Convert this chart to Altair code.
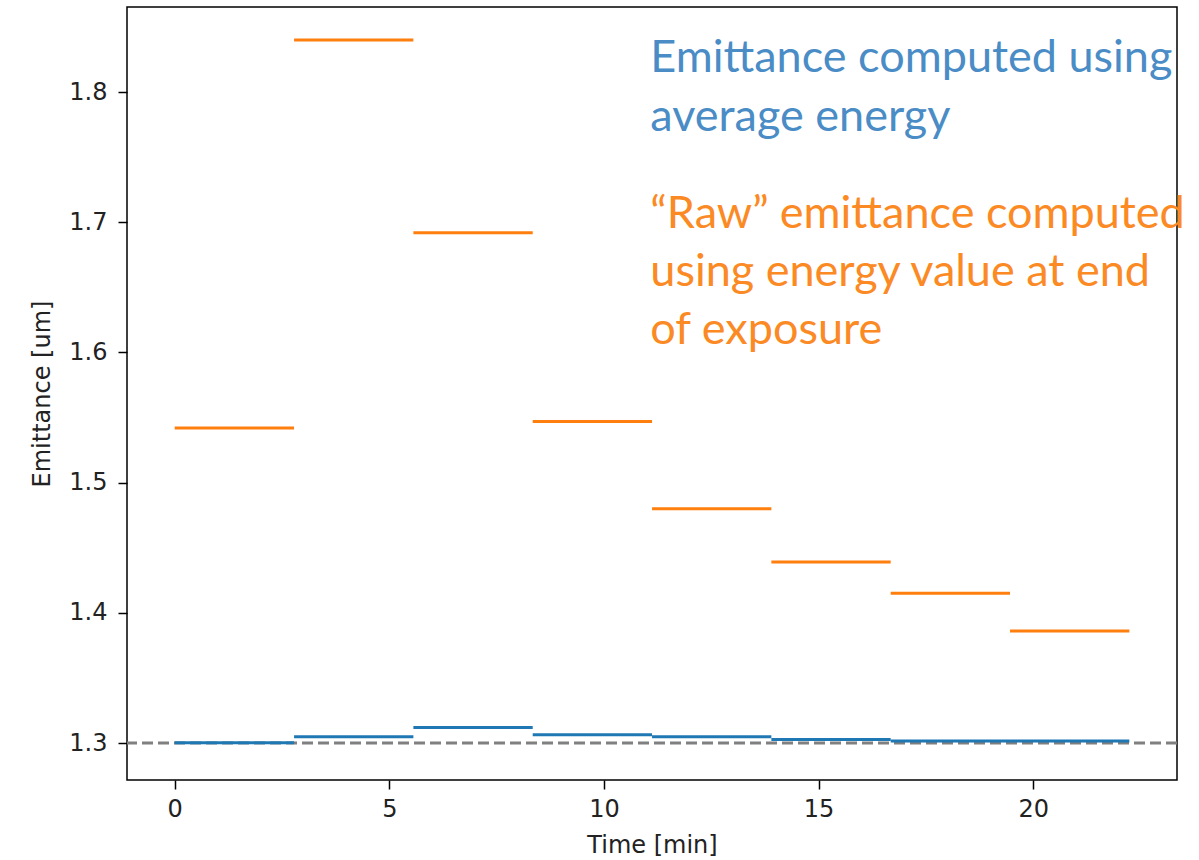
import altair as alt
import pandas as pd

# exposure windows (minutes)
t_start = [0.0, 2.78, 5.56, 8.34, 11.12, 13.90, 16.68, 19.46]
t_end = [2.78, 5.56, 8.34, 11.12, 13.90, 16.68, 19.46, 22.24]
# emittance computed using average energy
emit_avg = [1.3002, 1.3048, 1.3120, 1.3064, 1.3048, 1.3028, 1.3015, 1.3016]
# raw emittance using energy at end of exposure
emit_raw = [1.542, 1.840, 1.692, 1.547, 1.480, 1.439, 1.415, 1.386]
reference = [1.3]

x_ticks = [0, 5, 10, 15, 20]
y_ticks = [1.3, 1.4, 1.5, 1.6, 1.7, 1.8]

blue_lines = ["Emittance computed using", "average energy"]
blue_x = [11.08, 11.08]
blue_y = [1.8154, 1.7700]
orange_lines = ["\u201cRaw\u201d emittance computed", "using energy value at end", "of exposure"]
orange_x = [11.08, 11.08, 11.08]
orange_y = [1.6955, 1.6510, 1.6065]

seg = pd.DataFrame({"t0": t_start, "t1": t_end, "avg": emit_avg, "raw": emit_raw})
ref = pd.DataFrame({"y": reference})
tb = pd.DataFrame({"x": blue_x, "y": blue_y, "text": blue_lines})
to = pd.DataFrame({"x": orange_x, "y": orange_y, "text": orange_lines})

xscale = alt.Scale(domain=[-1.112, 23.35], nice=False, zero=False)
yscale = alt.Scale(domain=[1.2716, 1.8653], nice=False, zero=False)

xaxis = alt.Axis(values=x_ticks, title="Time [min]", grid=False, domain=False,
                 tickSize=9, tickWidth=1.5, tickColor="black", labelPadding=8,
                 labelFont="DejaVu Sans", labelFontSize=24, labelColor="#222",
                 titleFont="DejaVu Sans", titleFontSize=24, titleFontWeight="normal",
                 titleColor="#222", titlePadding=12, format="d")
yaxis = alt.Axis(values=y_ticks, title="Emittance [um]", grid=False, domain=False,
                 tickSize=9, tickWidth=1.5, tickColor="black", labelPadding=11,
                 labelFont="DejaVu Sans", labelFontSize=24, labelColor="#222",
                 titleFont="DejaVu Sans", titleFontSize=24, titleFontWeight="normal",
                 titleColor="#222", titlePadding=14, format=".1f")

ref_layer = alt.Chart(ref).mark_rule(color="#808080", strokeWidth=3, strokeDash=[11, 5]).encode(
    y=alt.Y("y:Q", scale=yscale, axis=yaxis),
)
raw_layer = alt.Chart(seg).mark_rule(color="#ff7f0e", strokeWidth=3, strokeCap="butt").encode(
    x=alt.X("t0:Q", scale=xscale, axis=xaxis),
    x2="t1:Q",
    y=alt.Y("raw:Q", scale=yscale),
)
avg_layer = alt.Chart(seg).mark_rule(color="#1f77b4", strokeWidth=3, strokeCap="butt").encode(
    x=alt.X("t0:Q", scale=xscale),
    x2="t1:Q",
    y=alt.Y("avg:Q", scale=yscale),
)
text_blue = alt.Chart(tb).mark_text(align="left", baseline="alphabetic", font="Lato",
                                    fontSize=45, color="#4a8cc6").encode(
    x=alt.X("x:Q", scale=xscale), y=alt.Y("y:Q", scale=yscale), text="text:N")
text_orange = alt.Chart(to).mark_text(align="left", baseline="alphabetic", font="Lato",
                                      fontSize=45, color="#fb8a24").encode(
    x=alt.X("x:Q", scale=xscale), y=alt.Y("y:Q", scale=yscale), text="text:N")

chart = alt.layer(ref_layer, raw_layer, avg_layer, text_blue, text_orange).properties(
    width=1050, height=773,
    autosize=alt.AutoSizeParams(type="none"),
    padding={"left": 127, "top": 7, "right": 22, "bottom": 80},
    background="white",
).configure_view(stroke="black", strokeWidth=1.5)

chart.save("out.html", embed_options={"renderer": "svg", "actions": False})
